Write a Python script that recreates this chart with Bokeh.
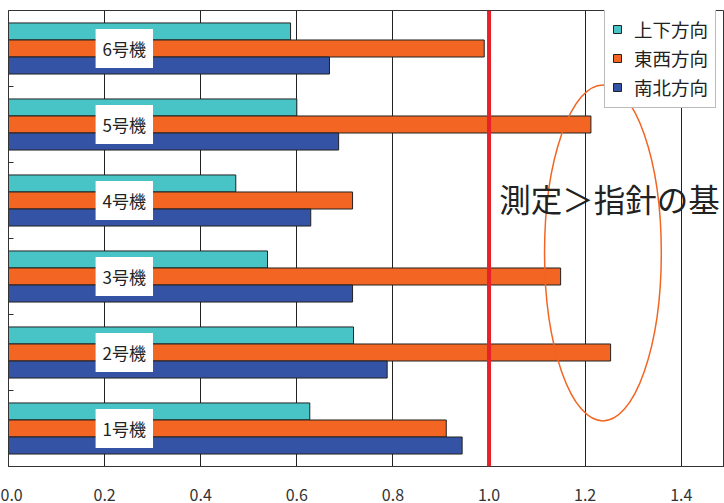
from bokeh.plotting import figure
from bokeh.models import ColumnDataSource, Range1d, FixedTicker, Span, Legend, LegendItem, NumeralTickFormatter
from bokeh.transform import dodge
from bokeh.core.properties import value
from bokeh.embed import file_html
from bokeh.resources import INLINE

machines = ["1号機", "2号機", "3号機", "4号機", "5号機", "6号機"]
updown = [0.627, 0.718, 0.539, 0.473, 0.600, 0.587]      # 上下方向
eastwest = [0.911, 1.253, 1.149, 0.716, 1.212, 0.990]    # 東西方向
northsouth = [0.944, 0.788, 0.716, 0.629, 0.687, 0.668]  # 南北方向
x_ticks = [0.0, 0.2, 0.4, 0.6, 0.8, 1.0, 1.2, 1.4]
guide_value = 1.0
note_text = "測定＞指針の基"

FONT = "Noto Sans CJK JP"
TEAL = "#48C4C6"
ORANGE = "#F26522"
BLUE = "#3553A4"

pos = [i + 0.5 for i in range(len(machines))]
src = ColumnDataSource(dict(machine=machines, pos=pos, ud=updown, ew=eastwest, ns=northsouth,
                            lx=[0.241] * len(machines)))

p = figure(width=724, height=503, output_backend="svg", toolbar_location=None,
           x_range=Range1d(0, 1.49), y_range=Range1d(0, 6),
           min_border_left=8, min_border_right=0, min_border_top=10, min_border_bottom=0)
p.background_fill_color = "white"
p.border_fill_color = "white"
p.outline_line_color = "#333333"
p.outline_line_width = 1

bh = 0.224
r_ud = p.hbar(y=dodge("pos", bh, range=p.y_range), right="ud", left=0, height=bh, source=src,
              fill_color=TEAL, line_color="#222222", line_width=1)
r_ew = p.hbar(y=dodge("pos", 0, range=p.y_range), right="ew", left=0, height=bh, source=src,
              fill_color=ORANGE, line_color="#222222", line_width=1)
r_ns = p.hbar(y=dodge("pos", -bh, range=p.y_range), right="ns", left=0, height=bh, source=src,
              fill_color=BLUE, line_color="#222222", line_width=1)

# grid
p.ygrid.visible = False
p.xgrid.ticker = FixedTicker(ticks=x_ticks)
p.xgrid.grid_line_color = "#222222"
p.xgrid.grid_line_width = 1
p.xgrid.level = "underlay"

# x axis
p.xaxis.ticker = FixedTicker(ticks=x_ticks)
p.xaxis.formatter = NumeralTickFormatter(format="0.0")
p.xaxis.axis_line_color = "#333333"
p.xaxis.major_tick_line_color = None
p.xaxis.minor_tick_line_color = None
p.xaxis.major_label_text_font = FONT
p.xaxis.major_label_text_font_size = "16px"
p.xaxis.major_label_text_color = "#333333"
p.xaxis.major_label_standoff = 16

# y axis: only inward boundary ticks, no labels
y_ticks = [1, 2, 3, 4, 5]
p.yaxis.ticker = FixedTicker(ticks=y_ticks)
p.yaxis.major_label_overrides = {t: "" for t in y_ticks}
p.yaxis.major_tick_in = 5
p.yaxis.major_tick_out = 0
p.yaxis.major_tick_line_color = "#333333"
p.yaxis.minor_tick_line_color = None
p.yaxis.axis_line_color = "#333333"
p.yaxis.major_label_standoff = 0

# red guide line
p.add_layout(Span(location=guide_value, dimension="height", line_color="#E8202A", line_width=4))

# machine labels
p.text(x="lx", y="pos", text="machine", source=src, text_align="center", text_baseline="middle",
       text_font=value(FONT), text_font_size="17px", text_color="#222222",
       background_fill_color="white", background_fill_alpha=1.0, padding=7)

# ellipse annotation
p.ellipse(x=[1.237], y=[2.81], width=0.243, height=4.42, fill_color=None,
          line_color=ORANGE, line_width=1.5)

p.text(x=[1.021], y=[3.535], text=[note_text], text_font=value(FONT), text_font_size="31.5px",
       text_color="#222222", text_baseline="middle", text_align="left")

legend = Legend(items=[LegendItem(label="上下方向", renderers=[r_ud]),
                       LegendItem(label="東西方向", renderers=[r_ew]),
                       LegendItem(label="南北方向", renderers=[r_ns])],
                location=(596, 358))
legend.margin = 0
legend.padding = 7
legend.spacing = 3
legend.glyph_width = 10
legend.glyph_height = 10
legend.label_height = 22
legend.label_text_font = FONT
legend.label_text_font_size = "18.5px"
legend.label_text_color = "#222222"
legend.label_standoff = 12
legend.border_line_color = "#777777"
legend.background_fill_alpha = 1.0
p.add_layout(legend, "center")

open("out.html", "w").write(file_html(p, INLINE))
